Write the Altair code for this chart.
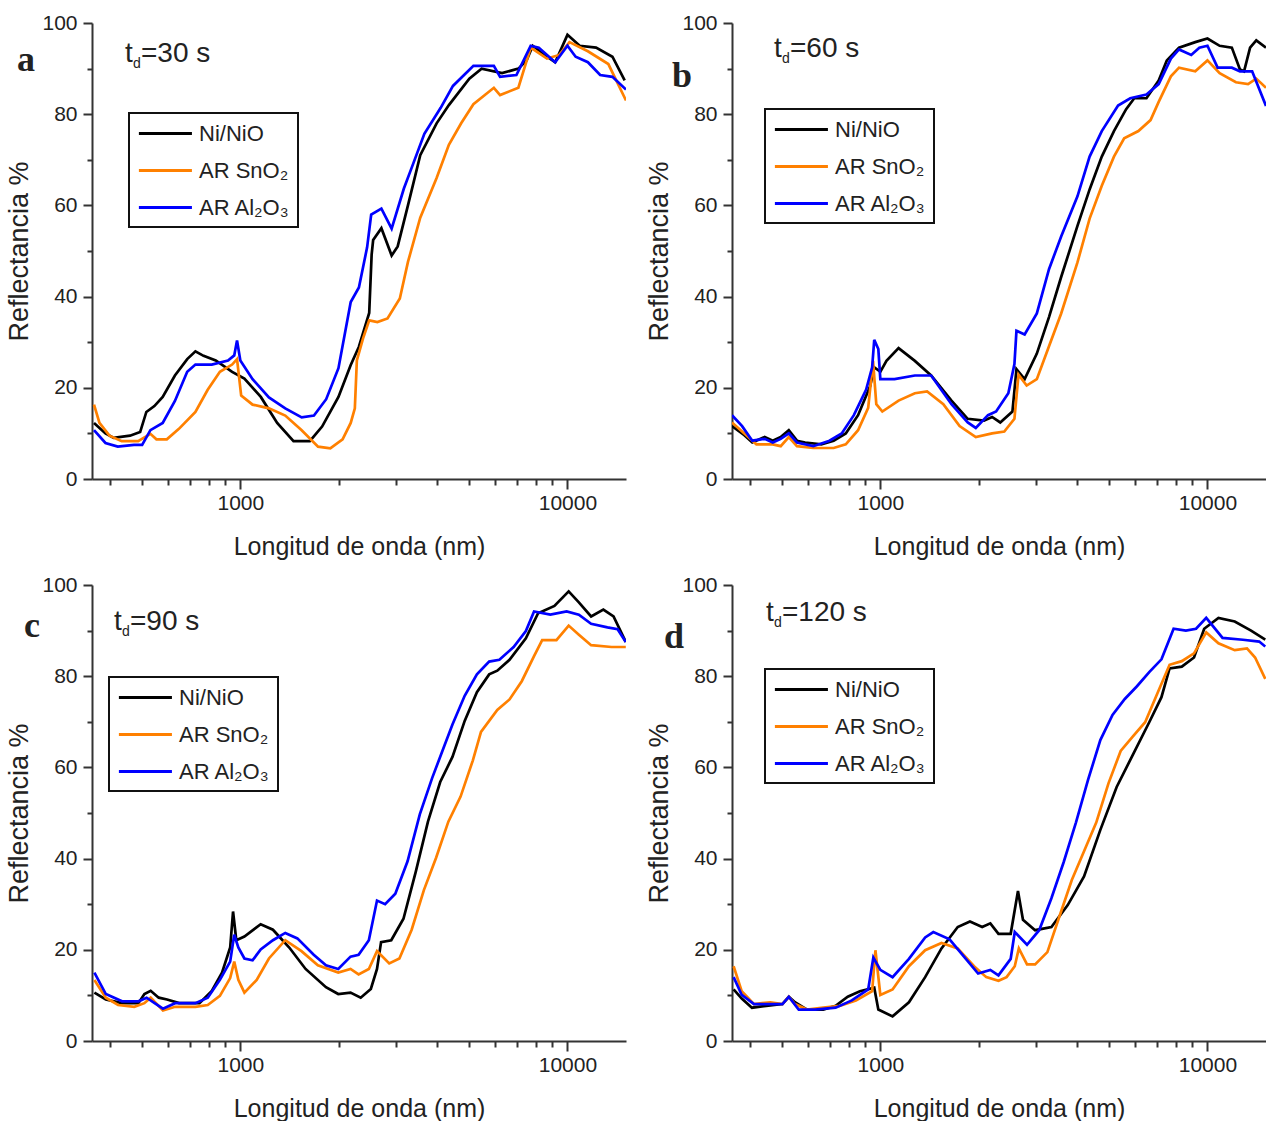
import altair as alt
import pandas as pd

SERIES = ["Ni/NiO", "AR SnO₂", "AR Al₂O₃"]
COLORS = ["#000000", "#FF8000", "#0000FF"]
PANEL_LETTERS = ["a", "b", "c", "d"]
TD_LABELS = ["=30 s", "=60 s", "=90 s", "=120 s"]
X_TICKS = [400, 500, 600, 700, 800, 900, 1000, 2000, 3000, 4000, 5000, 6000, 7000, 8000, 9000, 10000]
Y_TICKS = [0, 10, 20, 30, 40, 50, 60, 70, 80, 90, 100]

# ---------------- panel a (t_d = 30 s) ----------------
A_NI_WL = [357, 387, 410, 460, 494, 516, 546, 579, 631, 688, 729, 772, 841, 944, 1029, 1155, 1296, 1454, 1631, 1778,
           1995, 2175, 2304, 2477, 2520, 2547, 2699, 2901, 3027, 3254, 3548, 3981, 4340, 5012, 5464, 6310, 7079, 7499,
           7834, 8660, 9173, 10000, 10900, 12230, 13725, 14962]
A_NI_R = [12.3, 10, 9, 9.5, 10.3, 14.7, 16, 18, 22.7, 26.3, 28, 27, 26, 23.5, 22, 18, 12.3, 8.3, 8.3, 11.5,
          18, 25, 29, 36.4, 49.2, 52.4, 55, 49, 51, 60, 71, 78, 82, 87.8, 90, 89, 90, 91.8,
          95, 92.6, 91.4, 97.4, 95, 94.6, 92.6, 87.4]
A_SN_WL = [357, 371, 398, 434, 487, 531, 554, 596, 649, 729, 794, 866, 944, 977, 1006, 1090, 1223, 1372, 1540, 1728,
           1884, 2054, 2175, 2239, 2271, 2371, 2477, 2624, 2818, 3073, 3254, 3548, 3981, 4340, 4732, 5158, 5957, 6223,
           7079, 7720, 8660, 9441, 10145, 11548, 13335, 15100]
A_SN_R = [16.3, 12.3, 9.5, 8.3, 8.3, 9.9, 8.7, 8.7, 11, 14.7, 19.5, 23.5, 25.1, 26.3, 18.3, 16.3, 15.5, 13.9, 10.7, 7.1,
          6.7, 8.7, 12.3, 15.5, 26, 30.8, 34.8, 34.4, 35.2, 39.6, 47.6, 57.3, 66, 73.3, 78, 82.2, 85.8, 84.2,
          85.8, 94.6, 92.2, 93, 95.8, 93.8, 91, 83]
A_AL_WL = [357, 387, 422, 473, 501, 531, 579, 631, 688, 729, 818, 917, 958, 977, 1000, 1090, 1223, 1372, 1540, 1679,
           1830, 1995, 2175, 2304, 2441, 2512, 2699, 2901, 3162, 3350, 3652, 4097, 4467, 5158, 5957, 6223, 6982, 7720,
           8175, 9173, 10000, 10593, 11548, 12589, 13725, 15100]
A_AL_R = [10.7, 7.9, 7.1, 7.5, 7.5, 10.7, 12.3, 17.1, 23.5, 25.1, 25.1, 26, 27.1, 30.4, 26, 21.9, 17.9, 15.5, 13.5, 13.9,
          17.5, 24.3, 38.8, 42, 50.8, 58, 59.3, 54.9, 63.7, 68.5, 75.7, 81.4, 86.2, 90.6, 90.6, 88.2, 88.6, 95,
          94.6, 91.4, 95, 92.6, 91.4, 88.6, 88.2, 85.4]

# ---------------- panel b (t_d = 60 s) ----------------
B_NI_WL = [352, 384, 406, 443, 469, 496, 525, 556, 589, 660, 720, 784, 855, 931, 958, 1000, 1044, 1137, 1275, 1430,
           1650, 1850, 2074, 2196, 2326, 2534, 2607, 2761, 3009, 3278, 3571, 4005, 4363, 4753, 5178, 5642, 5974, 6510,
           7094, 7512, 8185, 9178, 10000, 10896, 11872, 12572, 12938, 13500, 14100, 15100]
B_NI_R = [11.6, 9.6, 8, 9.2, 8.4, 9.2, 10.7, 8.4, 8, 7.6, 8.4, 10, 14, 20.4, 24.5, 23.5, 25.9, 28.7, 25.9, 22.7,
          17.2, 13.2, 12.8, 13.6, 12.4, 14.8, 24.1, 21.9, 27.5, 35.5, 44.3, 55.5, 63.5, 70.7, 76.3, 81.1, 83.5, 83.5,
          87.4, 91.8, 94.6, 95.8, 96.6, 95, 94.6, 89.8, 89.4, 94.6, 96.2, 94.6]
B_SN_WL = [352, 384, 418, 469, 496, 525, 556, 624, 720, 784, 855, 918, 950, 972, 1014, 1137, 1275, 1390, 1558, 1747,
           1958, 2196, 2393, 2570, 2645, 2801, 3009, 3278, 3571, 4005, 4363, 4753, 5178, 5564, 6150, 6700, 7094, 7731,
           8185, 9178, 10000, 10896, 12218, 13310, 14100, 15100]
B_SN_R = [12.4, 10, 7.6, 7.6, 7.2, 9.2, 7.2, 6.8, 6.8, 7.6, 10.7, 15.6, 25.9, 16.4, 14.8, 17.2, 18.8, 19.2, 16.4, 11.6,
          9.2, 10, 10.4, 13.2, 22.9, 20.5, 21.9, 29.1, 36.3, 47.5, 57.1, 64.3, 70.7, 74.7, 76.3, 78.7, 82.7, 88.3,
          90.2, 89.4, 91.8, 89, 87, 86.6, 87.8, 85.8]
B_AL_WL = [352, 378, 406, 443, 469, 496, 525, 556, 624, 699, 762, 830, 905, 944, 958, 986, 1000, 1105, 1275, 1430,
           1650, 1850, 1958, 2134, 2259, 2462, 2570, 2607, 2761, 3009, 3278, 3571, 4005, 4363, 4753, 5330, 5808, 6510,
           7094, 7731, 8185, 8920, 9445, 10000, 10742, 11872, 12572, 13696, 15100]
B_AL_R = [14, 11.6, 8.4, 8.8, 8, 8.8, 10, 8, 7.2, 8.4, 10, 14, 19.6, 24.5, 30.5, 28.5, 21.9, 21.9, 22.7, 22.7,
          16.4, 12.4, 11.2, 14, 14.8, 18.8, 25.2, 32.5, 31.7, 36.3, 46, 53.2, 62, 70.7, 76.3, 81.9, 83.5, 84.3,
          86.6, 92.2, 94.2, 93, 94.6, 95, 90.2, 90.2, 89.4, 89.4, 81.8]

# ---------------- panel c (t_d = 90 s) ----------------
C_NI_WL = [358, 388, 435, 488, 509, 532, 563, 597, 650, 750, 818, 879, 931, 950, 972, 1029, 1154, 1258, 1411, 1583,
           1827, 1992, 2172, 2333, 2506, 2617, 2693, 2893, 3153, 3437, 3746, 4083, 4451, 4851, 5287, 5763, 6102, 6651,
           7462, 8133, 9124, 10086, 10837, 11812, 12874, 13832, 15077]
C_NI_R = [10.6, 9.1, 8.3, 8.3, 10.3, 11, 9.5, 9.1, 8.3, 8.3, 11, 15, 20.5, 28.4, 22.1, 22.9, 25.6, 24.4, 20.5, 15.8,
          11.8, 10.3, 10.6, 9.5, 11.4, 15.8, 21.7, 22.1, 26.8, 37.1, 48.1, 56.8, 62.3, 70.2, 76.5, 80.4, 81.2, 83.6,
          88.3, 93.8, 95.4, 98.6, 96.2, 93.1, 94.6, 93.1, 87.5]
C_SN_WL = [358, 388, 423, 474, 509, 532, 580, 632, 729, 795, 866, 931, 958, 986, 1029, 1122, 1223, 1372, 1538, 1726,
           1992, 2172, 2299, 2471, 2617, 2852, 3064, 3340, 3640, 3967, 4324, 4713, 5136, 5441, 6102, 6651, 7250, 7904,
           8370, 9254, 10086, 10837, 11812, 13636, 15077]
C_SN_R = [13.4, 9.5, 7.9, 7.5, 8.3, 9.5, 6.7, 7.5, 7.5, 7.9, 9.9, 13.8, 17.4, 13.4, 10.6, 13.4, 18.1, 22.1, 19.7, 16.6,
          15, 15.8, 14.6, 15.8, 19.7, 17, 18.1, 24.4, 33.1, 40.2, 48.1, 53.6, 61.5, 67.8, 72.6, 74.9, 78.9, 84.4,
          87.9, 87.9, 91.1, 89.1, 86.8, 86.4, 86.4]
C_AL_WL = [358, 388, 435, 488, 517, 547, 580, 632, 729, 795, 866, 931, 958, 986, 1029, 1090, 1154, 1258, 1372, 1494,
           1676, 1827, 1992, 2172, 2299, 2471, 2617, 2771, 2977, 3245, 3537, 3855, 4202, 4451, 4851, 5287, 5763, 6193,
           6846, 7462, 7904, 8865, 9943, 10837, 11812, 13253, 14234, 15077]
C_AL_R = [15, 10.3, 8.7, 8.7, 9.5, 8.3, 7.1, 8.3, 8.3, 9.5, 13.4, 17.4, 23.3, 20.5, 18.1, 17.7, 20.1, 22.1, 23.7, 22.5,
          18.9, 16.6, 15.8, 18.5, 18.9, 22.1, 30.8, 30, 32.3, 39.4, 49.7, 57.6, 64.7, 69.4, 75.7, 80.4, 83.2, 83.6,
          86.4, 89.9, 94.2, 93.5, 94.2, 93.5, 91.5, 90.7, 90.3, 87.5]

# ---------------- panel d (t_d = 120 s) ----------------
D_NI_WL = [356, 377, 405, 448, 502, 525, 548, 597, 669, 730, 795, 866, 958, 986, 1090, 1223, 1371, 1538, 1724, 1879,
           2048, 2169, 2297, 2503, 2635, 2729, 2973, 3334, 3740, 4195, 4705, 5278, 5918, 6638, 7234, 7660, 8348, 9097,
           9772, 10805, 12118, 13593, 15025]
D_NI_R = [11.3, 9.3, 7.3, 7.7, 8.1, 9.7, 8.5, 6.9, 6.9, 7.7, 9.7, 10.9, 11.7, 6.9, 5.4, 8.5, 14, 20.3, 25, 26.2,
          25, 25.8, 23.5, 23.5, 32.9, 26.6, 24.3, 25, 29.8, 36.1, 46.3, 55.7, 62.8, 69.9, 75.4, 81.7, 82.1, 84.1,
          90.4, 92.8, 92, 90, 88]
D_SN_WL = [356, 377, 411, 461, 502, 525, 548, 597, 669, 751, 842, 944, 966, 1000, 1090, 1223, 1371, 1538, 1724, 1934,
           2108, 2297, 2432, 2576, 2651, 2808, 2973, 3241, 3531, 3849, 4195, 4571, 4982, 5429, 5918, 6449, 7027, 7660,
           8348, 9097, 9914, 10805, 12118, 13210, 13984, 15025]
D_SN_R = [16.4, 10.9, 8.1, 8.5, 8.1, 9.7, 8.1, 6.9, 7.3, 7.7, 8.9, 10.9, 19.9, 10.1, 11.3, 16.4, 19.9, 21.5, 20.3, 16.4,
          14, 13.2, 14, 16.4, 20.3, 16.8, 16.8, 19.5, 27.4, 35.3, 41.6, 47.9, 56.5, 63.6, 66.8, 69.9, 76.2, 82.5,
          83.3, 85, 89.6, 87.2, 85.7, 86.1, 84.1, 79.4]
D_AL_WL = [356, 377, 411, 461, 502, 525, 563, 632, 730, 818, 918, 952, 1000, 1090, 1223, 1371, 1452, 1628, 1826, 1990,
           2169, 2297, 2503, 2576, 2808, 3059, 3334, 3634, 3962, 4317, 4705, 5126, 5589, 6089, 6638, 7234, 7880, 8590,
           9229, 9914, 11120, 12834, 14393, 15025]
D_AL_R = [14, 10.1, 8.1, 8.1, 8.1, 9.7, 6.9, 6.9, 7.3, 8.9, 11.3, 18.3, 15.6, 14, 18, 22.7, 23.9, 22.3, 18, 14.8,
          15.6, 14.4, 18, 23.9, 21.1, 24.3, 31.3, 39.2, 47.9, 57.3, 66, 71.5, 75, 77.8, 80.9, 83.7, 90.4, 90,
          90.4, 92.8, 88.4, 88, 87.6, 86.5]

PANEL_DATA = [
    [(A_NI_WL, A_NI_R), (A_SN_WL, A_SN_R), (A_AL_WL, A_AL_R)],
    [(B_NI_WL, B_NI_R), (B_SN_WL, B_SN_R), (B_AL_WL, B_AL_R)],
    [(C_NI_WL, C_NI_R), (C_SN_WL, C_SN_R), (C_AL_WL, C_AL_R)],
    [(D_NI_WL, D_NI_R), (D_SN_WL, D_SN_R), (D_AL_WL, D_AL_R)],
]

# layout / styling (pixels relative to each panel's plot area)
LEGEND_POS = [(37, 90), (33, 86), (17, 92), (33, 84)]
LETTER_POS = [(-75, 48), (-60, 64), (-68, 52), (-68, 63)]
TD_POS = [(33, 39), (42, 34), (22, 45), (34, 36)]

FONT = "Liberation Sans, Arial, Helvetica, sans-serif"
SERIF = "Liberation Serif, Times New Roman, serif"
INK = "#222222"
AXIS = "#333333"
W, H = 534, 456
# legend line symbol: path from -1 to +4 (units of symbol radius), radius ~10.6 px -> ~53 px line
SYMBOL_PATH = "M-1,0H4"
SYMBOL_SIZE = 450


def text_layer(txt, x, y, size, font=FONT, weight="normal"):
    return alt.Chart(pd.DataFrame({"s": [txt]})).mark_text(
        align="left", baseline="alphabetic", fontSize=size, font=font,
        fontWeight=weight, color=INK
    ).encode(x=alt.value(x), y=alt.value(y), text="s:N")


def make_panel(i):
    rows = []
    for name, (wl, r) in zip(SERIES, PANEL_DATA[i]):
        for w_, r_ in zip(wl, r):
            rows.append({"series": name, "wl": w_, "r": r_})
    df = pd.DataFrame(rows)

    lx, ly = LEGEND_POS[i]
    x_axis = alt.Axis(
        values=X_TICKS, format="d",
        labelExpr="datum.value == 1000 || datum.value == 10000 ? datum.label : ''",
        title="Longitud de onda (nm)", titleFont=FONT, titleFontSize=25, titleFontWeight="normal",
        titleColor=INK, labelFont=FONT, labelFontSize=21, labelColor=INK,
        grid=False, domainColor=AXIS, domainWidth=2, tickColor=AXIS, tickWidth=2,
        tickSize={"condition": {"test": "datum.value == 1000 || datum.value == 10000", "value": 10}, "value": 6},
        labelFlush=False, labelOverlap=False, labelPadding=3, titlePadding=21,
    )
    y_axis = alt.Axis(
        values=Y_TICKS,
        labelExpr="datum.value % 20 == 0 ? datum.label : ''",
        title="Reflectancia %", titleFont=FONT, titleFontSize=27, titleFontWeight="normal",
        titleColor=INK, labelFont=FONT, labelFontSize=21, labelColor=INK,
        grid=False, domainColor=AXIS, domainWidth=2, tickColor=AXIS, tickWidth=2,
        tickSize={"condition": {"test": "datum.value % 20 == 0", "value": 9}, "value": 5},
        labelFlush=False, labelOverlap=False, labelPadding=6, titlePadding=8,
    )
    legend = alt.Legend(
        title=None, orient="none", legendX=lx, legendY=ly,
        symbolType=SYMBOL_PATH, symbolSize=SYMBOL_SIZE, symbolStrokeWidth=3,
        labelFont=FONT, labelFontSize=22, labelColor=INK, labelLimit=400, labelOffset=37,
        strokeColor="#111111", fillColor="white", padding=8, rowPadding=13,
    )
    lines = alt.Chart(df).mark_line(strokeWidth=2.7, clip=True).encode(
        x=alt.X("wl:Q", scale=alt.Scale(type="log", domain=[352, 15100], nice=False), axis=x_axis),
        y=alt.Y("r:Q", scale=alt.Scale(domain=[0, 100], nice=False), axis=y_axis),
        color=alt.Color("series:N", scale=alt.Scale(domain=SERIES, range=COLORS), legend=legend),
    )
    tx, ty = TD_POS[i]
    lx_, ly_ = LETTER_POS[i]
    layers = [
        lines,
        text_layer("t", tx, ty, 28),
        text_layer("d", tx + 8, ty + 6, 14),
        text_layer(TD_LABELS[i], tx + 16, ty, 28),
        text_layer(PANEL_LETTERS[i], lx_, ly_, 36, font=SERIF, weight="bold"),
    ]
    return alt.layer(*layers).properties(width=W, height=H)


chart = alt.concat(
    *[make_panel(i) for i in range(4)], columns=2, spacing=106, bounds="flush"
).resolve_scale(color="independent").configure_view(stroke=None).configure_legend(
    strokeWidth=2
).properties(
    padding={"left": 5, "top": 12, "right": 0, "bottom": 0}, background="white"
)

chart.save("out.html", embed_options={"renderer": "svg", "actions": False})
